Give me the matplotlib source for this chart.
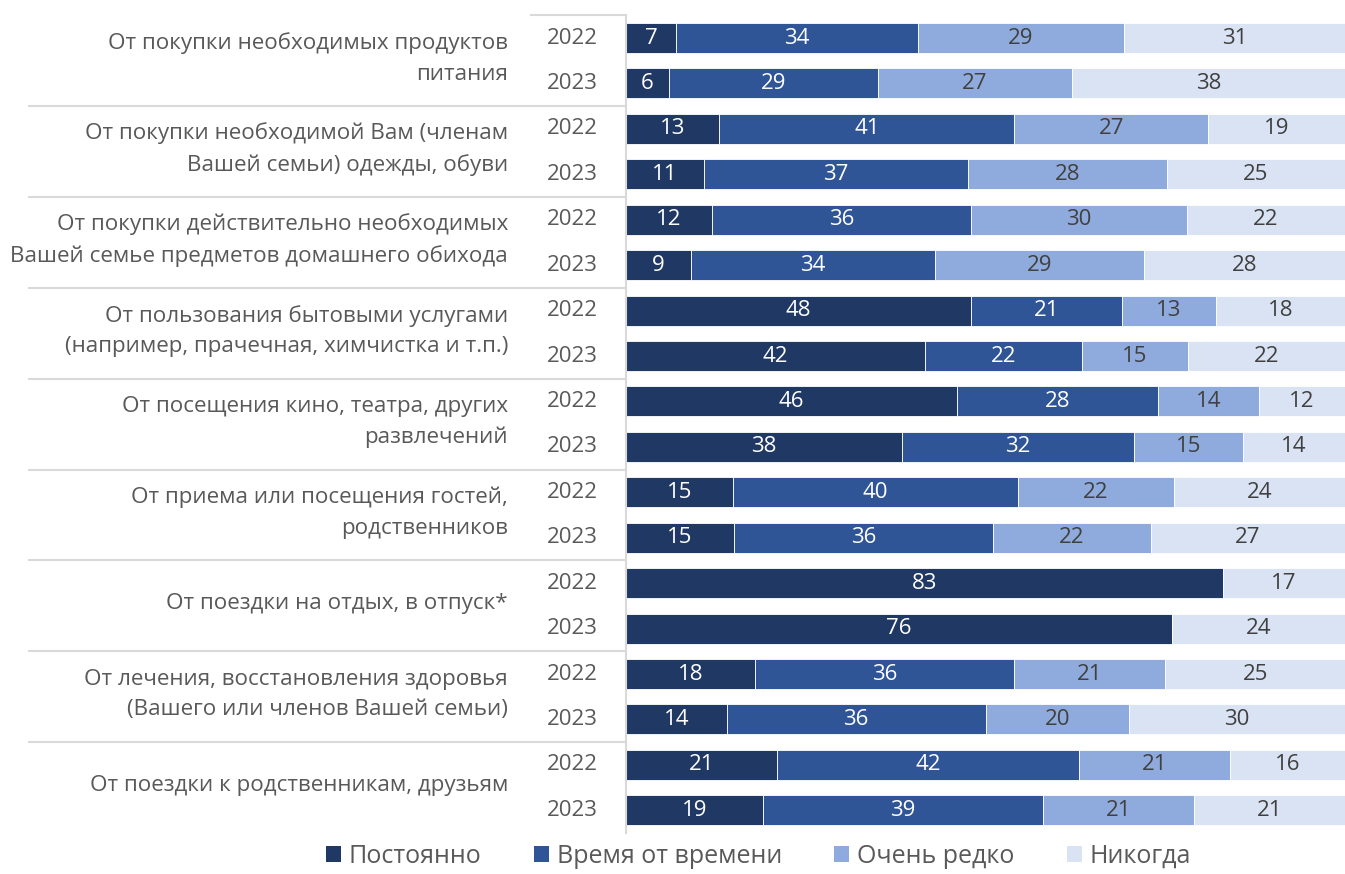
import matplotlib.pyplot as plt
import matplotlib.transforms as mtransforms
from matplotlib.patches import Patch
import numpy as np

plt.rcParams['font.family'] = ['Open Sans', 'DejaVu Sans']

categories = [
    "От покупки необходимых продуктов\nпитания",
    "От покупки необходимой Вам (членам\nВашей семьи) одежды, обуви",
    "От покупки действительно необходимых\nВашей семье предметов домашнего обихода",
    "От пользования бытовыми услугами\n(например, прачечная, химчистка и т.п.)",
    "От посещения кино, театра, других\nразвлечений",
    "От приема или посещения гостей,\nродственников",
    "От поездки на отдых, в отпуск*",
    "От лечения, восстановления здоровья\n(Вашего или членов Вашей семьи)",
    "От поездки к родственникам, друзьям",
]
years = ["2022", "2023"]
series = ["Постоянно", "Время от времени", "Очень редко", "Никогда"]

# rows: cat1-2022, cat1-2023, cat2-2022, ...
postoyanno = [7, 6, 13, 11, 12, 9, 48, 42, 46, 38, 15, 15, 83, 76, 18, 14, 21, 19]
vremya = [34, 29, 41, 37, 36, 34, 21, 22, 28, 32, 40, 36, 0, 0, 36, 36, 42, 39]
redko = [29, 27, 27, 28, 30, 29, 13, 15, 14, 15, 22, 22, 0, 0, 21, 20, 21, 21]
nikogda = [31, 38, 19, 25, 22, 28, 18, 22, 12, 14, 24, 27, 17, 24, 25, 30, 16, 21]

colors = ['#203864', '#2f5597', '#8faadc', '#dae3f3']
text_colors = ['white', 'white', '#404040', '#404040']
gray = '#595959'
line_col = '#d9d9d9'

fig = plt.figure(figsize=(13.45, 8.74), dpi=100)
ax = fig.add_axes([626 / 1345, 41 / 874, 719 / 1345, (833 - 15.3) / 874])

data = np.array([postoyanno, vremya, redko, nikogda], dtype=float)
# 100% stacked: each row scaled to its total
shares = data / data.sum(axis=0) * 100
y = np.arange(data.shape[1])
left = np.zeros(len(y))
for vals, share, c, tc in zip(data, shares, colors, text_colors):
    ax.barh(y, share, left=left, height=0.66, color=c, edgecolor='white', linewidth=0.6)
    for yi, (l, s, v) in enumerate(zip(left, share, vals)):
        if v > 0:
            ax.text(l + s / 2, yi, str(int(v)), ha='center', va='center',
                    color=tc, fontsize=16)
    left += share

ax.set_xlim(0, 100)
ax.set_ylim(len(y) - 0.5, -0.5)
ax.set_xticks([])
ax.set_yticks([])
for s in ['top', 'right', 'bottom']:
    ax.spines[s].set_visible(False)
ax.spines['left'].set_color(line_col)
ax.spines['left'].set_linewidth(1.5)

trans = mtransforms.blended_transform_factory(ax.transAxes, ax.transData)

# year labels
for yi in y:
    ax.text(-0.074, yi, years[yi % 2], transform=trans, ha='center', va='center',
            color=gray, fontsize=16)

# category labels
for i, cat in enumerate(categories):
    ax.text(-0.164, 2 * i + 0.45, cat, transform=trans, ha='right', va='center',
            color=gray, fontsize=16.1, linespacing=1.6)

# separators
ax.plot([-0.132, 0], [-0.5, -0.5], transform=trans, color=line_col, lw=1.5, clip_on=False)
for i in range(1, len(categories)):
    ax.plot([-0.83, 0], [2 * i - 0.5, 2 * i - 0.5], transform=trans, color=line_col,
            lw=1.5, clip_on=False)

handles = [Patch(facecolor=c, edgecolor='none') for c in colors]
fig.legend(handles, series, loc='center', bbox_to_anchor=(0.564, 0.02), ncol=4,
           frameon=False, fontsize=18, handlelength=0.6, handleheight=0.6,
           handletextpad=0.3, columnspacing=2.1, labelcolor=gray)

fig.savefig('out.png', dpi=100)
